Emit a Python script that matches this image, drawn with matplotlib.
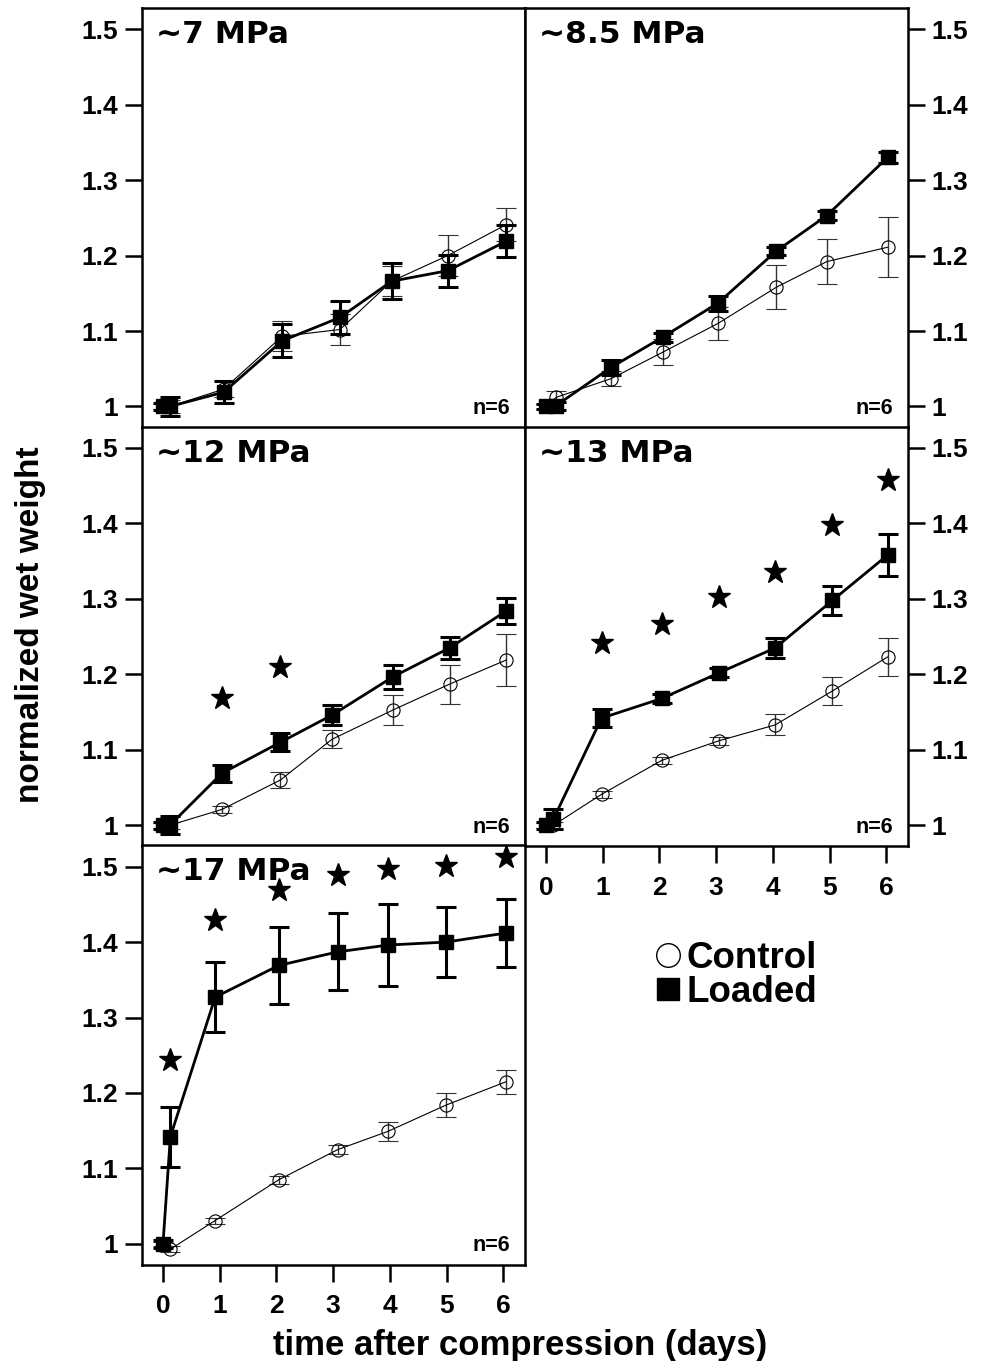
import matplotlib
matplotlib.use("Agg")
import matplotlib.pyplot as plt
from matplotlib.lines import Line2D

plt.rcParams['font.family'] = ['Liberation Sans', 'DejaVu Sans']
plt.rcParams['font.weight'] = 'bold'

# ~7 MPa
t_7 = [0, 0.12, 1.07, 2.1, 3.12, 4.03, 5.02, 6.05]
loaded_7 = [1.0, 1.0, 1.019, 1.087, 1.118, 1.166, 1.180, 1.219]
loaded_7_err = [0.005, 0.012, 0.015, 0.022, 0.022, 0.024, 0.021, 0.021]
control_7 = [1.0, 1.0, 1.023, 1.093, 1.102, 1.166, 1.200, 1.241]
control_7_err = [0.003, 0.008, 0.011, 0.020, 0.020, 0.020, 0.027, 0.022]

# ~8.5 MPa
t_85 = [0, 0.175, 1.15, 2.06, 3.03, 4.06, 4.95, 6.02]
loaded_85 = [1.0, 1.001, 1.052, 1.092, 1.137, 1.206, 1.253, 1.330]
loaded_85_err = [0.003, 0.005, 0.010, 0.006, 0.010, 0.005, 0.006, 0.007]
control_85 = [1.0, 1.012, 1.037, 1.072, 1.110, 1.158, 1.192, 1.211]
control_85_err = [0.003, 0.008, 0.010, 0.017, 0.022, 0.029, 0.030, 0.040]

# ~12 MPa
t_12 = [0, 0.12, 1.04, 2.07, 2.98, 4.06, 5.05, 6.05]
loaded_12 = [1.0, 1.0, 1.069, 1.110, 1.146, 1.197, 1.235, 1.284]
loaded_12_err = [0.005, 0.012, 0.011, 0.012, 0.013, 0.016, 0.015, 0.017]
control_12 = [1.0, 1.0, 1.021, 1.060, 1.114, 1.153, 1.187, 1.219]
control_12_err = [0.003, 0.005, 0.005, 0.011, 0.012, 0.020, 0.026, 0.034]
star_12_t = [1.04, 2.07]
star_12_y = [1.169, 1.210]

# ~13 MPa
t_13 = [0, 0.13, 0.98, 2.04, 3.05, 4.04, 5.05, 6.02]
loaded_13 = [1.0, 1.008, 1.142, 1.168, 1.202, 1.235, 1.298, 1.358]
loaded_13_err = [0.005, 0.013, 0.012, 0.006, 0.006, 0.013, 0.019, 0.028]
control_13 = [1.0, 1.0, 1.041, 1.086, 1.112, 1.133, 1.178, 1.223]
control_13_err = [0.003, 0.005, 0.005, 0.005, 0.005, 0.014, 0.019, 0.025]
star_13_t = [0.98, 2.04, 3.05, 4.04, 5.05, 6.02]
star_13_y = [1.241, 1.267, 1.303, 1.336, 1.398, 1.458]

# ~17 MPa
t_17 = [0, 0.13, 0.92, 2.04, 3.08, 3.96, 4.99, 6.05]
loaded_17 = [1.0, 1.142, 1.327, 1.369, 1.387, 1.396, 1.400, 1.412]
loaded_17_err = [0.005, 0.040, 0.046, 0.051, 0.051, 0.054, 0.046, 0.045]
control_17 = [1.0, 0.993, 1.031, 1.085, 1.125, 1.149, 1.184, 1.215]
control_17_err = [0.003, 0.004, 0.004, 0.005, 0.006, 0.013, 0.016, 0.016]
star_17_t = [0.13, 0.92, 2.04, 3.08, 3.96, 4.99, 6.05]
star_17_y = [1.244, 1.429, 1.469, 1.489, 1.497, 1.501, 1.513]

y_ticks = [1, 1.1, 1.2, 1.3, 1.4, 1.5]
y_ticklabels = ['1', '1.1', '1.2', '1.3', '1.4', '1.5']
x_ticks = [0, 1, 2, 3, 4, 5, 6]

fig = plt.figure(figsize=(9.82, 13.61), dpi=100)

# axes boxes in figure fraction (left, bottom, width, height)
W = 0.39
H = 0.3083
colx = [0.1446, 0.5346]
rowy = [0.6858, 0.3781, 0.0705]

panels = [
    ('~7 MPa', 0, 0, t_7, loaded_7, loaded_7_err, control_7, control_7_err, None, None),
    ('~8.5 MPa', 0, 1, t_85, loaded_85, loaded_85_err, control_85, control_85_err, None, None),
    ('~12 MPa', 1, 0, t_12, loaded_12, loaded_12_err, control_12, control_12_err, star_12_t, star_12_y),
    ('~13 MPa', 1, 1, t_13, loaded_13, loaded_13_err, control_13, control_13_err, star_13_t, star_13_y),
    ('~17 MPa', 2, 0, t_17, loaded_17, loaded_17_err, control_17, control_17_err, star_17_t, star_17_y),
]

for title, r, c, t, ld, lde, ct, cte, st, sy in panels:
    ax = fig.add_axes([colx[c], rowy[r], W, H])
    # control: thin line, open circles
    ax.errorbar(t, ct, yerr=cte, color='black', lw=0.8, marker='o', ms=9.5,
                mfc='none', mec='black', mew=0.8, ecolor='#333333', elinewidth=1.0,
                capsize=7, capthick=1.0, zorder=2)
    # loaded: thick line, filled squares
    ax.errorbar(t, ld, yerr=lde, color='black', lw=2.0, marker='s', ms=9.5,
                mfc='black', mec='black', ecolor='black', elinewidth=2.2,
                capsize=7, capthick=2.2, zorder=3)
    if st is not None:
        ax.plot(st, sy, ls='none', marker='*', ms=17, color='black', clip_on=False, zorder=4)

    ax.set_xlim(-0.37, 6.38)
    ax.set_ylim(0.972, 1.528)
    ax.set_yticks(y_ticks)
    ax.set_xticks(x_ticks)
    for sp in ax.spines.values():
        sp.set_linewidth(1.8)
    ax.tick_params(direction='out', length=12, width=1.8, labelsize=19, pad=5)
    ax.tick_params(axis='x', pad=9)

    if c == 0:
        ax.tick_params(axis='y', left=True, right=False, labelleft=True, labelright=False)
    else:
        ax.tick_params(axis='y', left=False, right=True, labelleft=False, labelright=True)
    ax.set_yticklabels(y_ticklabels)

    bottom_of_col = (c == 0 and r == 2) or (c == 1 and r == 1)
    if bottom_of_col:
        ax.tick_params(axis='x', bottom=True, labelbottom=True)
    else:
        ax.tick_params(axis='x', bottom=False, labelbottom=False)

    ax.text(0.036, 0.917, title, transform=ax.transAxes, ha='left', va='baseline',
            fontsize=22.5, fontweight='bold', family='DejaVu Sans')
    ax.text(0.961, 0.033, 'n=6', transform=ax.transAxes, ha='right', va='baseline',
            fontsize=15.5, fontweight='bold')

fig.text(0.031, 0.5408, 'normalized wet weight', rotation=90, ha='center', va='center',
         fontsize=24, fontweight='bold')
fig.text(0.5295, 0.0115, 'time after compression (days)', ha='center', va='center',
         fontsize=25, fontweight='bold')

handles = [
    Line2D([], [], ls='none', marker='o', ms=17, mfc='white', mec='black', mew=1.0),
    Line2D([], [], ls='none', marker='s', ms=16.5, mfc='black', mec='black'),
]
fig.legend(handles, ['Control', 'Loaded'], loc='center left',
           bbox_to_anchor=(0.648, 0.2832), frameon=False, fontsize=26.5,
           handlelength=0.7, handletextpad=0.15, labelspacing=-0.03, borderpad=0)

fig.savefig('out.png', dpi=100)
